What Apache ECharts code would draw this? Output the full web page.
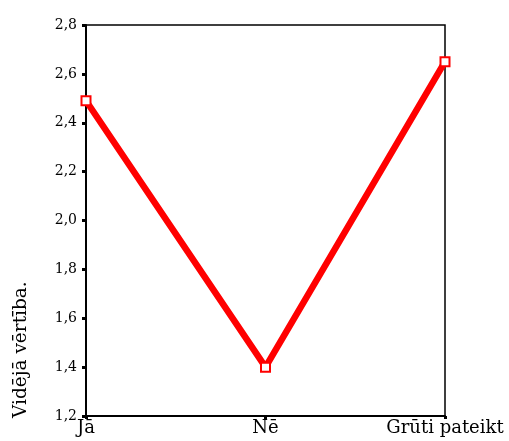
<!DOCTYPE html>
<html>
<head>
<meta charset="utf-8">
<script src="https://cdn.jsdelivr.net/npm/echarts@6/dist/echarts.min.js"></script>
<style>
  html, body { margin: 0; padding: 0; background: #fff; }
  #chart { width: 509px; height: 441px; }
</style>
</head>
<body>
<div id="chart"></div>
<script>
// atbildes un vidējās vērtības
const categories = ['Jā', 'Nē', 'Grūti pateikt'];
const meanValues = [2.49, 1.40, 2.65];
const yMin = 1.2;
const yMax = 2.8;
const yStep = 0.2;

const chart = echarts.init(document.getElementById('chart'));
const serif = '"DejaVu Serif", "Liberation Serif", serif';

chart.setOption({
  animation: false,
  grid: {
    left: 86,
    right: 64,
    top: 25,
    bottom: 25,
    show: true,
    borderColor: '#000',
    borderWidth: 1.5,
    backgroundColor: 'transparent'
  },
  graphic: [
    {
      type: 'text',
      x: 21,
      y: 418,
      rotation: Math.PI / 2,
      style: {
        text: 'Vidējā vērtība.',
        font: '18.5px ' + serif,
        fill: '#000',
        textAlign: 'left',
        textVerticalAlign: 'middle'
      }
    }
  ],
  xAxis: {
    type: 'category',
    data: categories,
    boundaryGap: false,
    axisLine: { lineStyle: { color: '#000', width: 2 } },
    axisTick: { show: true, length: 3, lineStyle: { color: '#000', width: 3 } },
    axisLabel: { color: '#000', fontFamily: serif, fontSize: 18, margin: 3 },
    splitLine: { show: false }
  },
  yAxis: {
    type: 'value',
    min: yMin,
    max: yMax,
    interval: yStep,
    axisLine: { show: true, lineStyle: { color: '#000', width: 2 } },
    axisTick: { show: true, length: 4, lineStyle: { color: '#000', width: 3 } },
    axisLabel: {
      color: '#000',
      fontFamily: serif,
      fontSize: 14,
      margin: 9,
      formatter: v => v.toFixed(1).replace('.', ',')
    },
    splitLine: { show: false }
  },
  series: [
    {
      type: 'line',
      data: meanValues,
      clip: false,
      lineStyle: { color: '#ff0000', width: 6.5 },
      symbol: 'emptyRect',
      symbolSize: 9,
      itemStyle: { color: '#ff0000', borderColor: '#ff0000', borderWidth: 1.5 },
      z: 3
    }
  ]
});
</script>
</body>
</html>
